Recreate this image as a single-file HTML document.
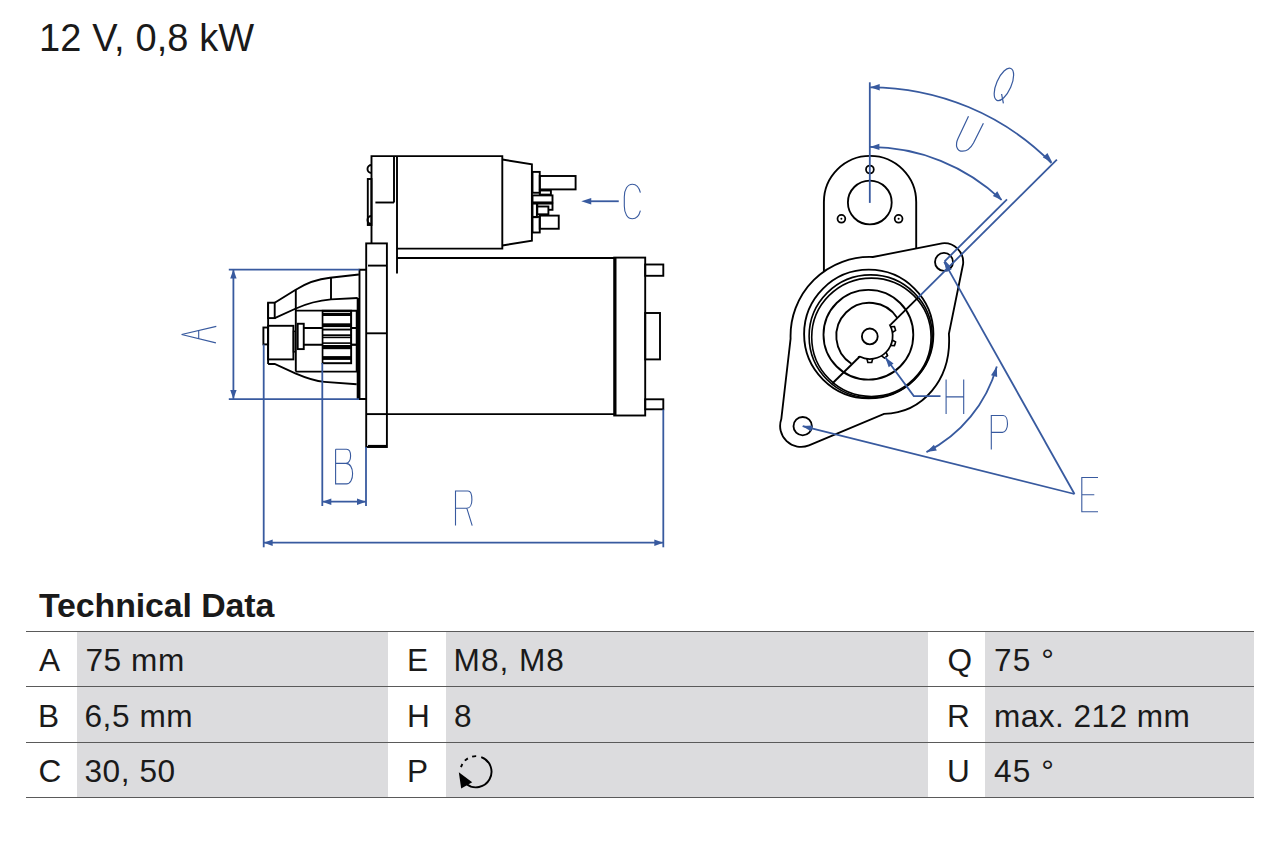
<!DOCTYPE html>
<html><head><meta charset="utf-8">
<style>
html,body{margin:0;padding:0;background:#fff;width:1280px;height:853px;overflow:hidden;}
body{position:relative;font-family:"Liberation Sans",sans-serif;color:#1a1a1a;}
.t{position:absolute;white-space:nowrap;line-height:1;}
#title{left:39px;top:19px;font-size:38px;letter-spacing:0.1px;}
#th{left:39px;top:589px;font-size:33.9px;font-weight:bold;letter-spacing:-0.1px;}
.g{position:absolute;background:#dcdcde;}
.hl{position:absolute;left:26px;width:1228px;height:1px;background:#5a5a5a;}
.c{position:absolute;font-size:31.6px;line-height:1;white-space:nowrap;}
svg{position:absolute;left:0;top:0;}
</style></head>
<body>
<div class="t" id="title">12 V, 0,8 kW</div>
<div class="t" id="th">Technical Data</div>

<div class="g" style="top:632px;left:77px;width:311px;height:54px"></div>
<div class="g" style="top:632px;left:446px;width:482px;height:54px"></div>
<div class="g" style="top:632px;left:985px;width:269px;height:54px"></div>
<div class="g" style="top:687px;left:77px;width:311px;height:55px"></div>
<div class="g" style="top:687px;left:446px;width:482px;height:55px"></div>
<div class="g" style="top:687px;left:985px;width:269px;height:55px"></div>
<div class="g" style="top:743px;left:77px;width:311px;height:54px"></div>
<div class="g" style="top:743px;left:446px;width:482px;height:54px"></div>
<div class="g" style="top:743px;left:985px;width:269px;height:54px"></div>
<div class="hl" style="top:631px"></div>
<div class="hl" style="top:686px"></div>
<div class="hl" style="top:742px"></div>
<div class="hl" style="top:797px"></div>

<div class="c" style="left:39px;top:645px">A</div>
<div class="c" style="left:85.5px;top:645px;letter-spacing:0.55px">75 mm</div>
<div class="c" style="left:407px;top:645px">E</div>
<div class="c" style="left:453.6px;top:645px;letter-spacing:1px">M8, M8</div>
<div class="c" style="left:947.5px;top:645px">Q</div>
<div class="c" style="left:994px;top:645px;letter-spacing:1.1px">75 °</div>

<div class="c" style="left:38px;top:700.5px">B</div>
<div class="c" style="left:84.5px;top:700.5px;letter-spacing:0.55px">6,5 mm</div>
<div class="c" style="left:407px;top:700.5px">H</div>
<div class="c" style="left:454px;top:700.5px">8</div>
<div class="c" style="left:947px;top:700.5px">R</div>
<div class="c" style="left:994px;top:700.5px;letter-spacing:0.45px">max. 212 mm</div>

<div class="c" style="left:38.5px;top:756px">C</div>
<div class="c" style="left:84.5px;top:756px;letter-spacing:0.55px">30, 50</div>
<div class="c" style="left:407px;top:756px">P</div>
<div class="c" style="left:947px;top:756px">U</div>
<div class="c" style="left:994px;top:756px;letter-spacing:1.1px">45 °</div>
<svg width="1280" height="853" viewBox="0 0 1280 853" stroke-linecap="butt">
<path d="M371.5,243.4 V156.1 H502.3 V248.6 H397" stroke="#000" stroke-width="1.9" fill="none" />
<line x1="394" y1="156.1" x2="394" y2="202.5" stroke="#000" stroke-width="1.9"/>
<line x1="397" y1="156.1" x2="397" y2="273.5" stroke="#000" stroke-width="1.9"/>
<line x1="375.4" y1="202.5" x2="394" y2="202.5" stroke="#000" stroke-width="1.9"/>
<path d="M502.3,159.5 L531.9,164.4 V240.6 L502.3,245.5" stroke="#000" stroke-width="1.9" fill="none" />
<rect x="367.8" y="179" width="3.7" height="46" stroke="#000" stroke-width="1.9" fill="none"/>
<path d="M371.5,165 A4,4 0 0 0 371.5,173" stroke="#000" stroke-width="1.9" fill="none" />
<path d="M371.5,216 A4,4 0 0 0 371.5,224" stroke="#000" stroke-width="1.9" fill="none" />
<rect x="532.5" y="171.9" width="7.25" height="20.85" stroke="#000" stroke-width="1.9" fill="none"/>
<rect x="539.75" y="176" width="35.85" height="13.4" stroke="#000" stroke-width="1.9" fill="none"/>
<rect x="539.8" y="190.5" width="11.1" height="4.1" stroke="#000" stroke-width="1.9" fill="none"/>
<rect x="532.5" y="195.4" width="20.0" height="7.0" stroke="#000" stroke-width="1.9" fill="none"/>
<rect x="537.3" y="203.6" width="15.2" height="6.2" stroke="#000" stroke-width="1.9" fill="none"/>
<rect x="537.3" y="206.5" width="11.1" height="7.8" stroke="#000" stroke-width="1.9" fill="#fff"/>
<rect x="532.5" y="203.6" width="4.4" height="13.6" stroke="#000" stroke-width="1.9" fill="none"/>
<rect x="532.5" y="216.9" width="7.25" height="15.6" stroke="#000" stroke-width="1.9" fill="none"/>
<rect x="539.75" y="215.6" width="19.0" height="13.15" stroke="#000" stroke-width="1.9" fill="none"/>
<rect x="366.2" y="243.4" width="20.7" height="203.6" stroke="#000" stroke-width="1.9" fill="none"/>
<line x1="368" y1="265.6" x2="386.9" y2="265.6" stroke="#000" stroke-width="1.9"/>
<line x1="366.2" y1="333.3" x2="386.9" y2="333.3" stroke="#000" stroke-width="1.9"/>
<line x1="366.2" y1="414.1" x2="386.9" y2="414.1" stroke="#000" stroke-width="1.9"/>
<line x1="368" y1="446.2" x2="386.9" y2="446.2" stroke="#000" stroke-width="2.6"/>
<line x1="397" y1="258" x2="614.2" y2="258" stroke="#000" stroke-width="1.9"/>
<line x1="386.9" y1="414.1" x2="614.2" y2="414.1" stroke="#000" stroke-width="1.9"/>
<rect x="614.2" y="257.6" width="31.0" height="157.9" stroke="#000" stroke-width="1.9" fill="none"/>
<line x1="615.2" y1="257.6" x2="615.2" y2="415.5" stroke="#000" stroke-width="2.6"/>
<rect x="645.2" y="264.5" width="18.1" height="11.3" stroke="#000" stroke-width="1.9" fill="none"/>
<rect x="645.2" y="399.3" width="18.1" height="10.0" stroke="#000" stroke-width="1.9" fill="none"/>
<rect x="645.2" y="313" width="14.8" height="46.4" stroke="#000" stroke-width="1.9" fill="none"/>
<path d="M366.2,269.7 H359.5 V399 H366.2" stroke="#000" stroke-width="1.9" fill="none" />
<line x1="358.3" y1="298" x2="358.3" y2="399" stroke="#000" stroke-width="3.2"/>
<path d="M274.7,302.7 L295.3,290 C308,282 318,279 330,277.8 L358.9,274.5" stroke="#000" stroke-width="1.9" fill="none" />
<path d="M274.7,318.1 L295.3,308.75 C308,303 318,300.5 331,299.4 L357.7,298" stroke="#000" stroke-width="1.9" fill="none" />
<line x1="295.8" y1="290" x2="295.8" y2="371.6" stroke="#000" stroke-width="1.9"/>
<line x1="331" y1="277.8" x2="331" y2="299.4" stroke="#000" stroke-width="1.9"/>
<rect x="268.1" y="302.7" width="6.6" height="15.4" stroke="#000" stroke-width="1.9" fill="none"/>
<line x1="268.1" y1="302.7" x2="268.1" y2="364" stroke="#000" stroke-width="1.9"/>
<line x1="295.8" y1="310.6" x2="357.7" y2="310.6" stroke="#000" stroke-width="1.9"/>
<path d="M268.1,364 H274.7 L295.3,373.4 C306,378 314,381 324.4,381.9 L356.7,384.2" stroke="#000" stroke-width="1.9" fill="none" />
<line x1="295.8" y1="371.6" x2="357.7" y2="371.6" stroke="#000" stroke-width="1.9"/>
<rect x="263.4" y="327.5" width="4.7" height="16.9" stroke="#000" stroke-width="1.9" fill="none"/>
<rect x="268.1" y="325.8" width="25.3" height="33.6" stroke="#000" stroke-width="1.9" fill="none"/>
<rect x="293.4" y="331.25" width="1.9" height="20.65" stroke="#000" stroke-width="1.3" fill="none"/>
<rect x="297.7" y="323.75" width="6.05" height="25.35" stroke="#000" stroke-width="1.9" fill="none"/>
<line x1="303.75" y1="328" x2="356.7" y2="328" stroke="#000" stroke-width="1.9"/>
<line x1="303.75" y1="344.8" x2="356.7" y2="344.8" stroke="#000" stroke-width="1.9"/>
<rect x="321.7" y="309.8" width="30.4" height="54.4" fill="#000"/>
<rect x="323.4" y="312.2" width="26.8" height="0.8" fill="#fff"/>
<rect x="323.4" y="316" width="26.8" height="7.3" fill="#fff"/>
<rect x="323.4" y="327.1" width="26.8" height="1.5" fill="#fff"/>
<rect x="323.4" y="330.5" width="26.8" height="3.8" fill="#fff"/>
<rect x="323.4" y="336" width="26.8" height="0.6" fill="#fff"/>
<rect x="323.4" y="338.2" width="26.8" height="4.1" fill="#fff"/>
<rect x="323.4" y="343.9" width="26.8" height="1.1" fill="#fff"/>
<rect x="323.4" y="349.2" width="26.8" height="6.9" fill="#fff"/>
<rect x="323.4" y="359.9" width="26.8" height="2.3" fill="#fff"/>
<path d="M351.2,344.6 V310.7 H356.5 V371.6" stroke="#000" stroke-width="1.5" fill="none" />
<line x1="351.2" y1="327.9" x2="356.5" y2="327.9" stroke="#000" stroke-width="1.6"/>
<line x1="351.2" y1="344.6" x2="356.5" y2="344.6" stroke="#000" stroke-width="1.6"/>
<line x1="228.8" y1="269.6" x2="359.5" y2="269.6" stroke="#385a9f" stroke-width="1.8"/>
<line x1="228.8" y1="399.1" x2="359" y2="399.1" stroke="#385a9f" stroke-width="1.8"/>
<line x1="233.4" y1="269.6" x2="233.4" y2="399.1" stroke="#385a9f" stroke-width="1.8"/>
<path d="M233.40,269.60 L236.60,278.60 L230.20,278.60 Z" fill="#385a9f" stroke="none"/>
<path d="M233.40,399.10 L230.20,390.10 L236.60,390.10 Z" fill="#385a9f" stroke="none"/>
<line x1="263.7" y1="344.4" x2="263.7" y2="547.3" stroke="#385a9f" stroke-width="1.8"/>
<line x1="663.3" y1="409.5" x2="663.3" y2="547.3" stroke="#385a9f" stroke-width="1.8"/>
<line x1="263.7" y1="542.7" x2="663.3" y2="542.7" stroke="#385a9f" stroke-width="1.8"/>
<path d="M263.70,542.70 L272.70,539.50 L272.70,545.90 Z" fill="#385a9f" stroke="none"/>
<path d="M663.30,542.70 L654.30,545.90 L654.30,539.50 Z" fill="#385a9f" stroke="none"/>
<line x1="322.3" y1="363" x2="322.3" y2="506" stroke="#385a9f" stroke-width="1.8"/>
<line x1="366" y1="447" x2="366" y2="506" stroke="#385a9f" stroke-width="1.8"/>
<line x1="322.3" y1="501.7" x2="366" y2="501.7" stroke="#385a9f" stroke-width="1.8"/>
<path d="M322.30,501.70 L331.30,498.50 L331.30,504.90 Z" fill="#385a9f" stroke="none"/>
<path d="M366.00,501.70 L357.00,504.90 L357.00,498.50 Z" fill="#385a9f" stroke="none"/>
<line x1="588" y1="201.25" x2="618.75" y2="201.25" stroke="#385a9f" stroke-width="1.8"/>
<path d="M581.25,201.25 L591.25,197.95 L591.25,204.55 Z" fill="#385a9f" stroke="none"/>
<path d="M640.4,192.6 C639,187 636,184.2 632.4,184.2 C627.5,184.2 624.3,189.5 624.3,197 V206 C624.3,213.5 627.5,218.8 632.4,218.8 C636,218.8 639,216 640.4,210.6" stroke="#385a9f" stroke-width="1.1" fill="none" />
<path d="M335.6,449.3 V483.9 H346.5 C350.5,483.9 352.6,479 352.6,473.5 C352.6,468 350,463.4 346,463.4 H335.6 M346,463.4 C349,463.4 350.6,459.5 350.6,456 C350.6,452 349,449.3 346.5,449.3 H335.6" stroke="#385a9f" stroke-width="1.1" fill="none" />
<path d="M455.5,525.6 V491 H468 C470.5,491 471.9,495 471.9,499.7 C471.9,504.5 470,508.2 466.8,508.2 H455.5 M466.8,508.2 L472.2,525.6" stroke="#385a9f" stroke-width="1.1" fill="none" />
<path d="M946.1,379.6 V414.1 M963.7,379.6 V414.1 M946.1,396.9 H963.7" stroke="#385a9f" stroke-width="1.1" fill="none" />
<path d="M991.3,449.5 V415.5 H1003.2 C1006,415.5 1007.5,419.5 1007.5,423.7 C1007.5,428.5 1005.5,432.4 1002.5,432.4 H991.3" stroke="#385a9f" stroke-width="1.1" fill="none" />
<path d="M1098,477.5 H1081.8 V511.8 H1098 M1081.8,494.8 H1094.3" stroke="#385a9f" stroke-width="1.1" fill="none" />
<path d="M216.3,326.4 L181.6,334.5 L215.9,342.9 M198.7,330.6 V338.4" stroke="#385a9f" stroke-width="1.1" fill="none" />
<path d="M823.9,271.3 V202 A46.15,46.15 0 0 1 916.2,202 V248.2" stroke="#000" stroke-width="1.9" fill="none" />
<circle cx="869.8" cy="202.5" r="21.9" stroke="#000" stroke-width="1.85" fill="none"/>
<circle cx="869.9" cy="169.5" r="3.9" stroke="#000" stroke-width="1.75" fill="none"/>
<circle cx="841.4" cy="218.8" r="3.9" stroke="#000" stroke-width="1.75" fill="none"/>
<circle cx="841.4" cy="218.8" r="1.0" stroke="#000" stroke-width="0" fill="#000"/>
<circle cx="898.6" cy="218.8" r="3.9" stroke="#000" stroke-width="1.75" fill="none"/>
<circle cx="898.6" cy="218.8" r="1.0" stroke="#000" stroke-width="0" fill="#000"/>
<path d="M790.6,338.7 L781.3,419 A21,21 0 0 0 809,445.4 L884,413.8 C922,413 952,380 948.9,333.9 L963.1,264 A19,19 0 0 0 942,243.3 L872.9,257 A79,79 0 0 0 790.6,338.7 Z" stroke="#000" stroke-width="1.85" fill="none" />
<circle cx="802.7" cy="426.2" r="9.2" stroke="#000" stroke-width="1.85" fill="none"/>
<circle cx="944" cy="261.9" r="9.0" stroke="#000" stroke-width="1.85" fill="none"/>
<ellipse cx="868.75" cy="334.05" rx="64.65" ry="64.35" stroke="#000" stroke-width="1.85" fill="none"/>
<ellipse cx="870.65" cy="336.3" rx="61.55" ry="61.4" stroke="#000" stroke-width="1.6" fill="none"/>
<ellipse cx="871.4" cy="337.3" rx="59.7" ry="59.2" stroke="#000" stroke-width="1.6" fill="none"/>
<circle cx="868.4" cy="334.75" r="44.9" stroke="#000" stroke-width="1.85" fill="none"/>
<circle cx="869.8" cy="336.4" r="7.9" stroke="#000" stroke-width="1.85" fill="none"/>
<path d="M897.34,317.92 A33.2,33.2 0 1 0 851.42,363.84" stroke="#000" stroke-width="1.85" fill="none" />
<line x1="918.3" y1="297.3" x2="890.4" y2="324.9" stroke="#000" stroke-width="1.85"/>
<line x1="859.8" y1="356.5" x2="832.3" y2="383.5" stroke="#000" stroke-width="1.85"/>
<path d="M890.4,324.9 L889.92,325.17 A22.9,22.9 0 0 1 859.58,356.59 L859.8,356.5" stroke="#000" stroke-width="1.75" fill="none" />
<path d="M890.40,326.80 L894.45,326.64 A26.4,26.4 0 0 1 895.56,330.34 L892.10,332.45" stroke="#000" stroke-width="1.6" fill="none" />
<path d="M892.09,339.83 L895.54,341.95 A26.4,26.4 0 0 1 894.41,345.65 L890.37,345.47" stroke="#000" stroke-width="1.6" fill="none" />
<path d="M885.92,351.94 L887.53,355.66 A26.4,26.4 0 0 1 884.49,358.04 L881.27,355.57" stroke="#000" stroke-width="1.6" fill="none" />
<path d="M872.75,358.51 L871.73,362.43 A26.4,26.4 0 0 1 867.87,362.43 L866.85,358.51" stroke="#000" stroke-width="1.6" fill="none" />
<line x1="869.8" y1="82.3" x2="869.8" y2="202.9" stroke="#385a9f" stroke-width="1.8"/>
<path d="M870.2,87.3 A255.4,255.4 0 0 1 1051.5,163" stroke="#385a9f" stroke-width="1.8" fill="none" />
<path d="M870.20,87.30 L879.69,84.08 L879.71,90.48 Z" fill="#385a9f" stroke="none"/>
<path d="M1052.20,162.30 L1042.88,157.47 L1047.42,152.95 Z" fill="#385a9f" stroke="none"/>
<path d="M869.8,146.9 A192.4,192.4 0 0 1 1001.5,199.9" stroke="#385a9f" stroke-width="1.8" fill="none" />
<path d="M869.90,146.90 L879.38,143.64 L879.42,150.04 Z" fill="#385a9f" stroke="none"/>
<path d="M1002.30,200.60 L992.87,195.99 L997.29,191.37 Z" fill="#385a9f" stroke="none"/>
<line x1="944.6" y1="261.3" x2="1007" y2="199.3" stroke="#385a9f" stroke-width="1.8"/>
<line x1="918.3" y1="297.3" x2="1056.9" y2="159.6" stroke="#385a9f" stroke-width="1.8"/>
<line x1="944.6" y1="261.3" x2="949.2" y2="266.3" stroke="#385a9f" stroke-width="1.8"/>
<line x1="1074.5" y1="494" x2="944.2" y2="261.9" stroke="#385a9f" stroke-width="1.8"/>
<line x1="1074.5" y1="494" x2="802.7" y2="426.2" stroke="#385a9f" stroke-width="1.8"/>
<path d="M944.20,261.90 L951.71,269.15 L946.48,272.09 Z" fill="#385a9f" stroke="none"/>
<path d="M802.20,426.10 L812.63,425.61 L811.18,431.43 Z" fill="#385a9f" stroke="none"/>
<path d="M885.2,357.3 L913.8,396.1 H940.5" stroke="#385a9f" stroke-width="1.8" fill="none" />
<path d="M885.20,357.30 L893.55,363.57 L888.72,367.13 Z" fill="#385a9f" stroke="none"/>
<path d="M926.45,452.1 A137.8,137.8 0 0 0 996.8,366.45" stroke="#385a9f" stroke-width="1.8" fill="none" />
<path d="M926.45,452.10 L933.93,444.73 L936.82,450.44 Z" fill="#385a9f" stroke="none"/>
<path d="M996.80,366.45 L997.17,376.94 L991.01,375.21 Z" fill="#385a9f" stroke="none"/>
<ellipse cx="1003.9" cy="84.4" rx="7.4" ry="17.4" transform="rotate(23.6 1003.9 84.4)" stroke="#385a9f" stroke-width="1.2" fill="none"/>
<path d="M1001.6,94 L1003.4,103.4" stroke="#385a9f" stroke-width="1.2" fill="none" />
<path d="M968.5,116.3 L958,138.5 C954.5,146 957.5,151.2 962.5,151.2 C966.5,151.2 970.5,148.5 973.5,143 L983.4,123.3" stroke="#385a9f" stroke-width="1.2" fill="none" />
<path d="M481.24,757.04 A15.6,15.6 0 1 1 466.30,783.99" stroke="#000" stroke-width="1.9" fill="none"/>
<path d="M460.98,767.14 A15.6,15.6 0 0 1 462.39,763.90" stroke="#000" stroke-width="1.9" fill="none"/>
<path d="M464.87,760.67 A15.6,15.6 0 0 1 467.87,758.33" stroke="#000" stroke-width="1.9" fill="none"/>
<path d="M472.13,756.56 A15.6,15.6 0 0 1 476.17,756.10" stroke="#000" stroke-width="1.9" fill="none"/>
<path d="M458.8,772.3 L461.2,788.6 L472.2,782.2 Z" fill="#000"/>
</svg>
</body></html>
